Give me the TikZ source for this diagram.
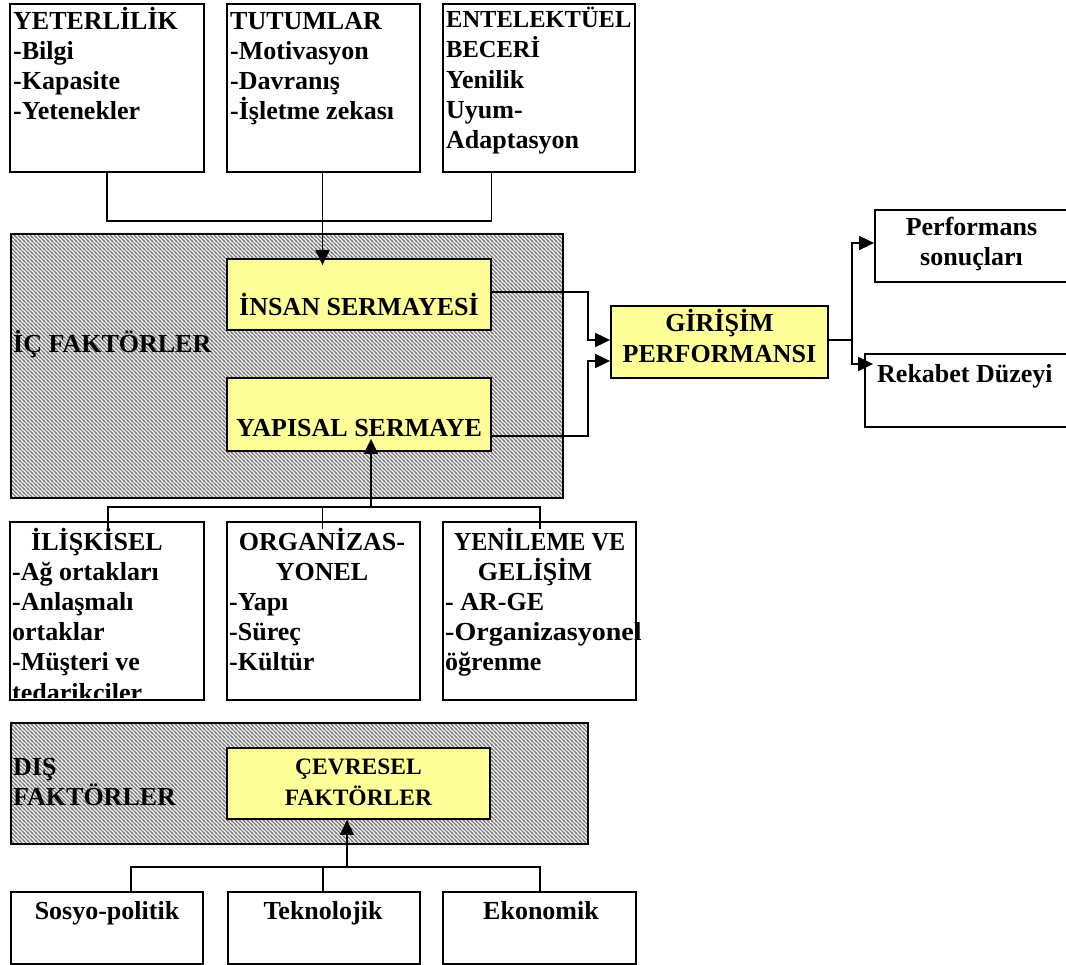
\documentclass[tikz,border=0pt]{standalone}
\usepackage{graphicx}
\usepackage{fontspec}
\setmainfont{Liberation Serif}
\usetikzlibrary{arrows.meta,calc,patterns.meta}

\definecolor{yellowbox}{HTML}{FFFF99}

% dense diagonal hatching for the factor groups
\tikzdeclarepattern{
  name=diagstripes,
  type=uncolored,
  bounding box={(-1pt,-1pt) and (5pt,5pt)},
  tile size={(4pt,4pt)},
  code={
    \draw[line width=0.9pt] (-1pt,5pt) -- (5pt,-1pt);
    \draw[line width=0.9pt] (-1pt,1pt) -- (1pt,-1pt);
    \draw[line width=0.9pt] (3pt,5pt) -- (5pt,3pt);
  }
}

\tikzset{
  box/.style={draw, line width=1.8pt, inner sep=0pt, fill=white},
  hatchbox/.style={draw, line width=1.8pt, inner sep=0pt, preaction={fill=gray!8},
    pattern=diagstripes, pattern color=black!55},
  ybox/.style={draw, line width=1.8pt, inner sep=0pt, fill=yellowbox},
  conn/.style={line width=1.8pt},
  arr/.style={line width=1.8pt, -{Triangle[length=15pt,width=14pt]}},
  lbl/.style={inner sep=0pt, font=\bfseries\fontsize{26}{30}\selectfont},
  lw/.style={lbl, anchor=base west},
  lc/.style={lbl, anchor=base},
  smaller/.style={font=\bfseries\fontsize{24.5}{30}\selectfont},
  smallest/.style={font=\bfseries\fontsize{23.5}{30}\selectfont},
}

\begin{document}
\begin{tikzpicture}[x=1pt, y=-1pt]
\useasboundingbox (0,0) rectangle (1066,965);

% ---------- factor groups (hatched) ----------
\node[hatchbox, minimum width=552pt, minimum height=264pt] (IC) at (287,366) {};
\node[hatchbox, minimum width=577pt, minimum height=121pt] (DIS) at (299.5,783.5) {};

% ---------- capital boxes ----------
\node[ybox, minimum width=264pt, minimum height=71pt] (INSAN) at (359,294.5) {};
\node[ybox, minimum width=264pt, minimum height=73pt] (YAPISAL) at (359,414.5) {};
\node[ybox, minimum width=217pt, minimum height=72pt] (GIRISIM) at (719.5,342) {};
\node[ybox, minimum width=263pt, minimum height=71pt] (CEV) at (358.5,783.5) {};

% ---------- top row ----------
\node[box, minimum width=194pt, minimum height=168pt] (A1) at (107,88) {};
\node[box, minimum width=193pt, minimum height=168pt] (A2) at (323.5,88) {};
\node[box, minimum width=192pt, minimum height=168pt] (A3) at (539,88) {};

% ---------- outcomes ----------
\node[box, minimum width=193pt, minimum height=72pt] (PERF) at (971.5,246) {};
\node[box, minimum width=203pt, minimum height=73pt] (REK) at (966.5,390.5) {};

% ---------- structural components ----------
\node[box, minimum width=194pt, minimum height=178pt] (B1) at (107,611) {};
\node[box, minimum width=193pt, minimum height=178pt] (B2) at (323.5,611) {};
\node[box, minimum width=193pt, minimum height=178pt] (B3) at (539.5,611) {};

% ---------- environmental components ----------
\node[box, minimum width=192pt, minimum height=72pt] (C1) at (107,928) {};
\node[box, minimum width=192pt, minimum height=72pt] (C2) at (324,928) {};
\node[box, minimum width=193pt, minimum height=72pt] (C3) at (539.5,928) {};

% ---------- texts ----------
\node[lw] (a1t) at (13,30) {YETERLİLİK};
\node[lw] (a1a) at (13,60) {-Bilgi};
\node[lw] (a1b) at (13,90) {-Kapasite};
\node[lw] (a1c) at (13,120) {-Yetenekler};

\node[lw] (a2t) at (230,30) {TUTUMLAR};
\node[lw] (a2a) at (230,60) {-Motivasyon};
\node[lw] (a2b) at (230,90) {-Davranış};
\node[lw] (a2c) at (230,120) {-İşletme zekası};

\node[lw, smaller] (a3t) at (446,28) {ENTELEKTÜEL};
\node[lw, smaller] (a3u) at (446,58) {BECERİ};
\node[lw] (a3a) at (446,89) {Yenilik};
\node[lw] (a3b) at (446,119) {Uyum-};
\node[lw] (a3c) at (446,149) {Adaptasyon};

\node[lc] (insT) at (359,316) {İNSAN SERMAYESİ};
\node[lw] (icT) at (13,353) {İÇ FAKTÖRLER};
\node[lc] (yapT) at (359,437) {YAPISAL SERMAYE};

\node[lc] (girT1) at (719.5,332) {GİRİŞİM};
\node[lc] (girT2) at (719.5,363) {PERFORMANSI};

\node[lc] (perT1) at (971.5,236) {Performans};
\node[lc] (perT2) at (971.5,266) {sonuçları};
\node[lw] (rekT) at (877,383) {Rekabet Düzeyi};

\begin{scope}
  \clip (B1.north west) rectangle ($(B1.south east)+(0,-3)$);
  \node[lc] (b1t) at (97,550) {İLİŞKİSEL};
  \node[lw] (b1a) at (12,580) {-Ağ ortakları};
  \node[lw] (b1b) at (12,610) {-Anlaşmalı};
  \node[lw] (b1c) at (12,640) {ortaklar};
  \node[lw] (b1d) at (12,670) {-Müşteri ve};
  \node[lw] (b1e) at (12,701) {tedarikciler};
\end{scope}

\node[lc] (b2t) at (322,550) {ORGANİZAS-};
\node[lc] (b2u) at (322,580) {YONEL};
\node[lw] (b2a) at (229,610) {-Yapı};
\node[lw] (b2b) at (229,640) {-Süreç};
\node[lw] (b2c) at (229,670) {-Kültür};

\node[lc] (b3t) at (539.5,550) {\scalebox{0.93}[1]{YENİLEME VE}};
\node[lc] (b3u) at (535,580) {GELİŞİM};
\node[lw] (b3a) at (445,610) {- AR-GE};
\node[lw] (b3b) at (445,640) {\scalebox{1.08}[1]{-Organizasyonel}};
\node[lw] (b3c) at (445,670) {öğrenme};

\node[lw] (disT1) at (13,775) {DIŞ};
\node[lw] (disT2) at (13,805) {FAKTÖRLER};
\node[lc, smallest] (cevT1) at (358.5,774) {ÇEVRESEL};
\node[lc, smallest] (cevT2) at (358.5,805) {FAKTÖRLER};

\node[lc] (c1t) at (107,919) {Sosyo-politik};
\node[lc] (c2t) at (323,919) {Teknolojik};
\node[lc] (c3t) at (541,919) {Ekonomik};

% ---------- connectors ----------
% top row joined and fed into human capital
\draw[conn] (A1.south) -- ($(A1.south)+(0,48)$) -- ($(A3.south)+(-47.5,48)$) -- ($(A3.south)+(-47.5,0)$);
\draw[arr] ($(A2.south)+(-1,0)$) -- ($(A2.south |- INSAN.north)+(-1,7)$);

% capitals into entrepreneurial performance
\draw[arr] ($(INSAN.east)+(0,-2.5)$) -- ++(96,0) |- ($(GIRISIM.west)+(0,-2)$);
\draw[arr] ($(YAPISAL.east)+(0,21.5)$) -- ++(96,0) |- ($(GIRISIM.west)+(0,19)$);

% performance into outcomes
\coordinate (jr) at ($(GIRISIM.east)+(23,-2)$);
\draw[conn] ($(GIRISIM.east)+(0,-2)$) -- (jr);
\draw[arr] (jr) |- ($(PERF.west)+(0,-3)$);
\draw[arr] (jr) |- ($(REK.west)+(9,-26.5)$);

% structural components into structural capital
\draw[conn] ($(B1.north)+(1,8)$) -- ($(B1.north)+(1,-14)$) -- ($(B3.north)+(0.5,-14)$) -- ($(B3.north)+(0.5,8)$);
\draw[conn] ($(B2.north)+(-1,8)$) -- ($(B2.north)+(-1,-14)$);
\draw[arr] ($(B2.north)+(47.5,-14)$) -- ($(YAPISAL.south)+(12,-13)$);

% environmental components into environmental factors
\draw[conn] ($(C1.north)+(24,0)$) -- ($(C1.north)+(24,-24)$) -- ($(C3.north)+(0.5,-24)$) -- ($(C3.north)+(0.5,0)$);
\draw[conn] ($(C2.north)+(-1,0)$) -- ($(C2.north)+(-1,-24)$);
\draw[arr] ($(C2.north)+(23,-24)$) -- ($(CEV.south)+(-11.5,0)$);
\end{tikzpicture}
\end{document}
